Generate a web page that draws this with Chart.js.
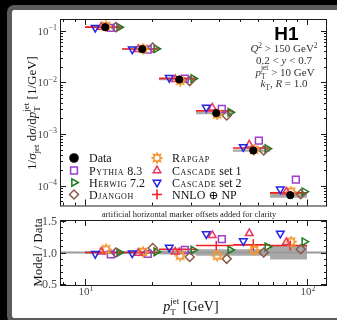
<!DOCTYPE html>
<html>
<head>
<meta charset="utf-8">
<script src="https://cdn.jsdelivr.net/npm/chart.js@4"></script>
<style>
html, body { margin: 0; padding: 0; background: #000; width: 337px; height: 320px; overflow: hidden; }
#frame { position: absolute; left: 7px; top: 5px; width: 340px; height: 318px; box-sizing: border-box;
         border: 5px solid #5b5b5b; border-right: none; border-radius: 7px 0 0 7px; background: #fff; }
#top { position: absolute; left: 0; top: 0; }
#ratio { position: absolute; left: 0; top: 208px; }
</style>
</head>
<body>
<div id="frame"></div>
<canvas id="top" width="337" height="212"></canvas>
<canvas id="ratio" width="337" height="112"></canvas>
<script>
// pT jet bins (GeV) and measured normalised cross section (1/GeV)
const binEdges = [10, 14.68, 21.54, 31.62, 46.42, 68.13, 100];
const dataXsec = [0.118, 0.0444, 0.0114, 0.00253, 0.000477, 0.000065];
const dataUnc = [0.02, 0.02, 0.03, 0.05, 0.05, 0.11];   // relative

// model / data ratios
const pythia   = [0.97, 0.98, 1.04, 1.21, 1.56, 2.00];
const herwig   = [1.00, 1.01, 1.04, 1.04, 1.09, 1.17];
const djangoh  = [1.00, 1.07, 0.93, 0.90, 1.00, 1.05];
const rapgap   = [1.05, 1.01, 0.95, 0.95, 1.04, 1.17];
const cascade1 = [1.01, 0.99, 1.01, 1.27, 1.30, 1.16];
const cascade2 = [0.98, 0.99, 1.08, 1.29, 1.18, 1.30];
const nnlo     = [1.00, 1.00, 1.05, 1.11, 1.12, 1.11];
const nnloUnc  = [0.02, 0.02, 0.03, 0.065, 0.08, 0.07]; // relative

// artificial horizontal marker offsets (log10 units)
const offsets = { cascade2: -0.045, cascade1: -0.018, rapgap: 0.004, pythia: 0.025, djangoh: 0.047, herwig: 0.063 };

const SERIF = '"Liberation Serif", "DejaVu Serif", serif';
const nnloColor = '#f02020';
const bandColor = 'rgba(140,140,140,0.75)';

function gearMarker(color) {
    const c = document.createElement('canvas');
    c.width = 12; c.height = 12;
    const g = c.getContext('2d');
    g.strokeStyle = color; g.lineWidth = 1.5;
    g.beginPath();
    for (let k = 0; k < 16; k++) {
        const r = k % 2 ? 2.9 : 4.9;
        const a = k * Math.PI / 8;
        const px = 6 + r * Math.cos(a), py = 6 + r * Math.sin(a);
        if (k) g.lineTo(px, py); else g.moveTo(px, py);
    }
    g.closePath(); g.stroke();
    return c;
}

const models = [
    { key: 'cascade2', values: cascade2, color: '#2424e6', style: 'triangle', rot: 180, radius: 4.4 },
    { key: 'cascade1', values: cascade1, color: '#e8365e', style: 'triangle', rot: 0, radius: 4.4 },
    { key: 'rapgap',   values: rapgap,   color: '#f5972f', style: gearMarker('#f5972f'), rot: 0, radius: 5 },
    { key: 'pythia',   values: pythia,   color: '#9b3fd0', style: 'rect', rot: 0, radius: 4.8 },
    { key: 'djangoh',  values: djangoh,  color: '#8a5a48', style: 'rectRot', rot: 0, radius: 4.5 },
    { key: 'herwig',   values: herwig,   color: '#1b7a1b', style: 'triangle', rot: 90, radius: 4.3 }
];

const centers = binEdges.slice(0, -1).map((lo, i) => (lo + binEdges[i + 1]) / 2);

function buildDatasets(isRatio) {
    const val = (i, r) => isRatio ? r : dataXsec[i] * r;
    const ds = [];
    if (!isRatio) {
        ds.push({
            data: centers.map((c, i) => ({ x: c, y: dataXsec[i] })),
            showLine: false, pointStyle: 'circle', pointRadius: 3.6,
            backgroundColor: '#000', borderColor: '#000', pointBorderWidth: 1
        });
    }
    models.forEach(m => {
        ds.push({
            data: centers.map((c, i) => ({ x: c * Math.pow(10, offsets[m.key]), y: val(i, m.values[i]) })),
            showLine: false, pointStyle: m.style, pointRotation: m.rot, pointRadius: m.radius,
            pointBorderWidth: 1.5, borderColor: m.color, backgroundColor: 'rgba(0,0,0,0)'
        });
    });
    // NNLO error bars at bin centres
    centers.forEach((c, i) => {
        const v = val(i, nnlo[i]);
        ds.push({
            data: [{ x: c, y: v * (1 - nnloUnc[i]) }, { x: c, y: v * (1 + nnloUnc[i]) }],
            borderColor: nnloColor, borderWidth: 1.5, pointRadius: 0
        });
    });
    // NNLO bin-wide lines
    const nn = [];
    centers.forEach((c, i) => {
        const v = val(i, nnlo[i]);
        nn.push({ x: binEdges[i], y: v }, { x: binEdges[i + 1], y: v }, { x: binEdges[i + 1], y: null });
    });
    ds.push({ data: nn, borderColor: nnloColor, borderWidth: 1.6, pointRadius: 0, spanGaps: false });
    if (isRatio) {
        ds.push({ data: [{ x: 5, y: 1 }, { x: 200, y: 1 }], borderColor: '#9a9a9a', borderWidth: 2, pointRadius: 0 });
    }
    // data uncertainty bands
    centers.forEach((c, i) => {
        const v = val(i, 1);
        const lo = binEdges[i], hi = binEdges[i + 1];
        ds.push({
            data: [{ x: lo, y: v * (1 + dataUnc[i]) }, { x: hi, y: v * (1 + dataUnc[i]) }],
            fill: '+1', backgroundColor: bandColor, borderColor: 'rgba(0,0,0,0)', pointRadius: 0
        }, {
            data: [{ x: lo, y: v * (1 - dataUnc[i]) }, { x: hi, y: v * (1 - dataUnc[i]) }],
            fill: false, borderColor: 'rgba(0,0,0,0)', pointRadius: 0
        });
    });
    return ds;
}

// text with sub/superscripts: parts {t, s, i, dy} or {sub, sup, s}
function rich(ctx, parts, x, y, align) {
    const fnt = (s, it) => (it ? 'italic ' : '') + s + 'px ' + SERIF;
    let w = 0;
    parts.forEach(p => {
        if (p.sub !== undefined) {
            ctx.font = fnt(p.s, false);
            p.w = Math.max(ctx.measureText(p.sub).width, ctx.measureText(p.sup).width);
        } else {
            ctx.font = fnt(p.s, p.i);
            p.w = ctx.measureText(p.t).width;
        }
        w += p.w;
    });
    let cx = align === 'center' ? x - w / 2 : align === 'right' ? x - w : x;
    ctx.textAlign = 'left';
    parts.forEach(p => {
        if (p.sub !== undefined) {
            ctx.font = fnt(p.s, false);
            ctx.fillText(p.sub, cx, y + p.s * 0.45);
            ctx.fillText(p.sup, cx, y - p.s * 0.75);
        } else {
            ctx.font = fnt(p.s, p.i);
            ctx.fillText(p.t, cx, y + (p.dy || 0));
        }
        cx += p.w;
    });
}

function logTicks(lo, hi) {
    const out = [];
    for (let e = -6; e <= 3; e++) {
        for (let m = 1; m <= 9; m++) {
            const v = m * Math.pow(10, e);
            if (v >= lo && v <= hi) out.push([v, m === 1]);
        }
    }
    return out;
}

function drawFrame(chart, xTicks, yTicks) {
    const { ctx, chartArea: a, scales } = chart;
    ctx.save();
    ctx.strokeStyle = '#1a1a1a';
    ctx.lineWidth = 1;
    ctx.strokeRect(a.left + 0.5, a.top + 0.5, a.right - a.left - 1, a.bottom - a.top);
    ctx.beginPath();
    xTicks.forEach(([v, major]) => {
        const px = Math.round(scales.x.getPixelForValue(v)) + 0.5;
        const len = major ? 6 : 3;
        ctx.moveTo(px, a.bottom); ctx.lineTo(px, a.bottom - len);
        ctx.moveTo(px, a.top); ctx.lineTo(px, a.top + len);
    });
    yTicks.forEach(([v, major]) => {
        const py = Math.round(scales.y.getPixelForValue(v)) + 0.5;
        const len = major ? 6 : 3;
        ctx.moveTo(a.left, py); ctx.lineTo(a.left + len, py);
        ctx.moveTo(a.right, py); ctx.lineTo(a.right - len, py);
    });
    ctx.stroke();
    ctx.restore();
}

const xMin = 7.72, xMax = 123;

const legendRows = [
    [{ label: ['Data', ''], style: 'circle', color: '#000', fill: '#000', radius: 4, rot: 0, plain: true },
     { label: ['Pythia', ' 8.3'], m: 3 },
     { label: ['Herwig', ' 7.2'], m: 5 },
     { label: ['Djangoh', ''], m: 4 }],
    [{ label: ['Rapgap', ''], m: 2 },
     { label: ['Cascade', ' set 1'], m: 1 },
     { label: ['Cascade', ' set 2'], m: 0 },
     { label: ['NNLO \u2295 NP', ''], style: 'cross', color: nnloColor, radius: 5, rot: 0, plain: true }]
];

const topPlugin = {
    id: 'topDecor',
    afterDatasetsDraw(chart) {
        const { ctx, scales } = chart;
        drawFrame(chart, logTicks(xMin, xMax), logTicks(scales.y.min, scales.y.max));
        ctx.save();
        ctx.fillStyle = '#4a4a4a';
        [-1, -2, -3, -4].forEach(e => {
            const py = scales.y.getPixelForValue(Math.pow(10, e));
            rich(ctx, [{ t: '10', s: 11 }, { t: '\u2212' + (-e), s: 8, dy: -4.5 }], 57, py + 4, 'right');
        });
        // y title
        ctx.fillStyle = '#111';
        ctx.translate(36, 113);
        ctx.rotate(-Math.PI / 2);
        rich(ctx, [{ t: '1/', s: 13 }, { t: '\u03c3', s: 13, i: true }, { t: 'jet', s: 9, dy: 3 },
                   { t: ' d', s: 13 }, { t: '\u03c3', s: 13, i: true }, { t: '/d', s: 13 }, { t: 'p', s: 13, i: true },
                   { sub: 'T', sup: 'jet', s: 9 }, { t: ' [1/GeV]', s: 13 }], 0, 0, 'center');
        ctx.restore();

        // H1 block
        ctx.save();
        ctx.fillStyle = '#000';
        ctx.font = 'bold 19px "Liberation Sans", Arial, sans-serif';
        ctx.textAlign = 'center';
        ctx.fillText('H1', 286.5, 40);
        ctx.fillStyle = '#333';
        rich(ctx, [{ t: 'Q', s: 11, i: true }, { t: '2', s: 7.5, dy: -4.5 }, { t: ' > 150 GeV', s: 11 }, { t: '2', s: 7.5, dy: -4.5 }], 284, 52, 'center');
        rich(ctx, [{ t: '0.2 < ', s: 11 }, { t: 'y', s: 11, i: true }, { t: ' < 0.7', s: 11 }], 284, 63.5, 'center');
        rich(ctx, [{ t: 'p', s: 11, i: true }, { sub: 'T', sup: 'jet', s: 7.5 }, { t: ' > 10 GeV', s: 11 }], 285, 75.5, 'center');
        rich(ctx, [{ t: 'k', s: 11, i: true }, { t: 'T', s: 7.5, dy: 2.5 }, { t: ', ', s: 11 }, { t: 'R', s: 11, i: true }, { t: ' = 1.0', s: 11 }], 284, 87, 'center');
        ctx.restore();

        // legend
        ctx.save();
        const rowsY = [158, 170.5, 182.5, 194.5];
        const cols = [[74, 89], [157, 172]];
        legendRows.forEach((col, ci) => {
            col.forEach((it, ri) => {
                const m = it.m !== undefined ? models[it.m] : null;
                const st = m ? { pointStyle: m.style, rotation: m.rot, radius: m.radius, borderWidth: 1.5 }
                             : { pointStyle: it.style, rotation: it.rot, radius: it.radius, borderWidth: 1.6 };
                ctx.strokeStyle = m ? m.color : it.color;
                ctx.fillStyle = m ? 'rgba(0,0,0,0)' : (it.fill || 'rgba(0,0,0,0)');
                ctx.lineWidth = st.borderWidth;
                if (Chart.helpers && Chart.helpers.drawPoint) Chart.helpers.drawPoint(ctx, st, cols[ci][0], rowsY[ri]);
                ctx.fillStyle = '#111';
                ctx.textAlign = 'left';
                if (!it.plain) ctx.letterSpacing = '0.6px';
                ctx.font = (it.plain ? '' : 'small-caps ') + '12px ' + SERIF;
                ctx.fillText(it.label[0], cols[ci][1], rowsY[ri] + 4);
                const w = ctx.measureText(it.label[0]).width;
                ctx.letterSpacing = '0px';
                ctx.font = '12px ' + SERIF;
                ctx.fillText(it.label[1], cols[ci][1] + w, rowsY[ri] + 4);
            });
        });
        ctx.restore();
    }
};

const ratioYTicks = [];
for (let k = 5; k <= 15; k++) ratioYTicks.push([k / 10, k % 5 === 0]);

const ratioPlugin = {
    id: 'ratioDecor',
    afterDatasetsDraw(chart) {
        const { ctx, scales } = chart;
        drawFrame(chart, logTicks(xMin, xMax), ratioYTicks);
        ctx.save();
        ctx.fillStyle = '#4a4a4a';
        ctx.font = '12px ' + SERIF;
        ctx.textAlign = 'right';
        [0.5, 1.0, 1.5].forEach(v => {
            ctx.fillText(v.toFixed(1), 57, scales.y.getPixelForValue(v) + 4);
        });
        [1, 2].forEach(e => {
            rich(ctx, [{ t: '10', s: 11 }, { t: String(e), s: 8, dy: -4.5 }], scales.x.getPixelForValue(Math.pow(10, e)) + 1, 87, 'center');
        });
        ctx.fillStyle = '#222';
        ctx.font = '8.5px ' + SERIF;
        ctx.textAlign = 'center';
        ctx.fillText('artificial horizontal marker offsets added for clarity', 189, 9);
        ctx.fillStyle = '#111';
        rich(ctx, [{ t: 'p', s: 14, i: true }, { sub: 'T', sup: 'jet', s: 9 }, { t: ' [GeV]', s: 14 }], 191, 103, 'center');
        ctx.translate(42, 44.5);
        ctx.rotate(-Math.PI / 2);
        ctx.font = '13px ' + SERIF;
        ctx.textAlign = 'center';
        ctx.fillText('Model / Data', 0, 0);
        ctx.restore();
    }
};

const common = {
    responsive: false,
    animation: false,
    devicePixelRatio: 1,
    events: [],
    plugins: { legend: { display: false }, tooltip: { enabled: false } }
};

new Chart(document.getElementById('top'), {
    type: 'line',
    data: { datasets: buildDatasets(false) },
    options: Object.assign({}, common, {
        layout: { padding: { left: 60, right: 10, top: 19, bottom: 5 } },
        scales: {
            x: { type: 'logarithmic', min: xMin, max: xMax, display: false },
            y: { type: 'logarithmic', min: 4.1e-5, max: 0.17, display: false }
        }
    }),
    plugins: [topPlugin]
});

new Chart(document.getElementById('ratio'), {
    type: 'line',
    data: { datasets: buildDatasets(true) },
    options: Object.assign({}, common, {
        layout: { padding: { left: 60, right: 10, top: 12, bottom: 35 } },
        scales: {
            x: { type: 'logarithmic', min: xMin, max: xMax, display: false },
            y: { type: 'linear', min: 0.49, max: 1.51, display: false }
        }
    }),
    plugins: [ratioPlugin]
});
</script>
</body>
</html>
